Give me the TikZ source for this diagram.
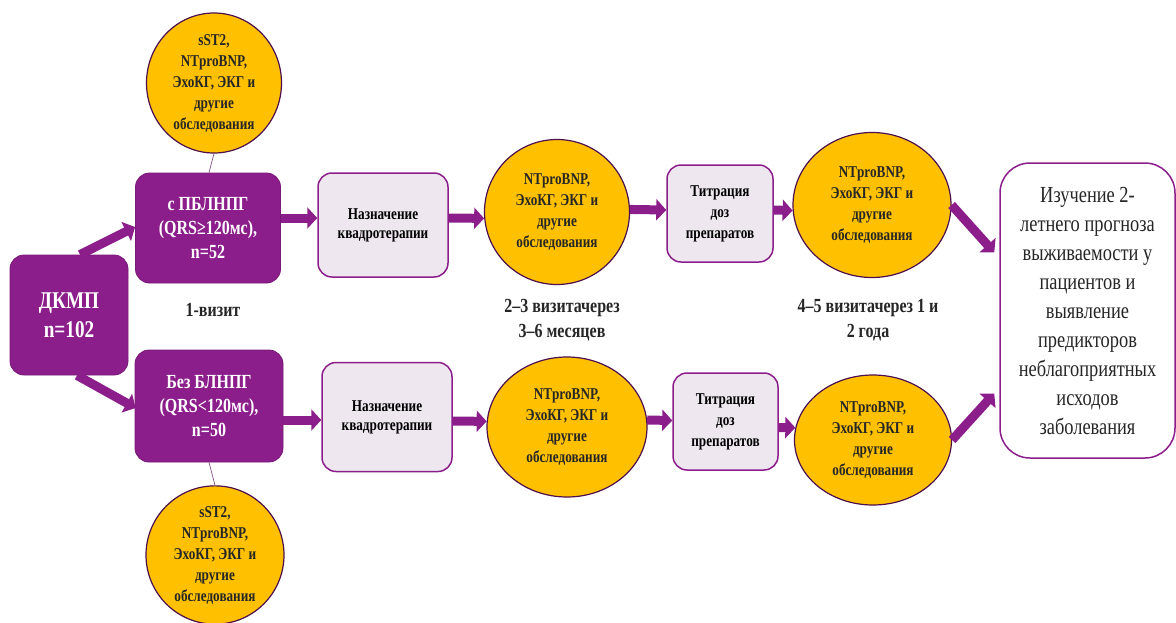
\documentclass[tikz,border=0pt]{standalone}
\usepackage{fontspec}
\setmainfont{Liberation Serif}
\newfontfamily\nf[FakeStretch=0.8]{Liberation Serif}
\usetikzlibrary{arrows.meta,shapes.geometric,calc}
\definecolor{purp}{HTML}{8C1E8C}
\definecolor{gold}{HTML}{FFC000}
\definecolor{lav}{HTML}{EEE7EF}
\begin{document}
\begin{tikzpicture}[x=1pt,y=-1pt,
 pbox/.style={rectangle, rounded corners=14pt, fill=purp, draw=purp!85!black, line width=0.8pt, text=white, align=center, inner sep=0pt, font=\nf\bfseries\fontsize{20}{24}\selectfont},
 lbox/.style={rectangle, rounded corners=14pt, fill=lav, draw=purp, line width=1.5pt, align=center, inner sep=0pt, font=\nf\bfseries\fontsize{16.5}{19}\selectfont},
 oval/.style={ellipse, fill=gold, draw=purp!55!black, line width=1.2pt, align=center, inner sep=0pt, font=\nf\bfseries\fontsize{16.5}{21}\selectfont, text=black!85},
 bar/.style={draw=purp, line width=9pt, -{Triangle[width=21pt,length=10pt]}},
 thin/.style={draw=purp!50!gray, line width=0.7pt},
 lbl/.style={align=center, font=\nf\bfseries\fontsize{20}{25}\selectfont, text=black!85}
]
\useasboundingbox (0,0) rectangle (1176,622);

% left column
\node[pbox, minimum width=118pt, minimum height=120pt, font=\nf\bfseries\fontsize{24}{29}\selectfont] (dkmp) at (69,315) {ДКМП\\n=102};
\node[pbox, minimum width=145pt, minimum height=110pt] (g1) at (208,228) {с ПБЛНПГ\\(QRS≥120мс),\\n=52};
\node[pbox, minimum width=148pt, minimum height=112pt] (g2) at (209,406) {Без БЛНПГ\\(QRS<120мс),\\n=50};
\node[oval, minimum width=135pt, minimum height=140pt] (c0) at (214,83) {sST2,\\NTproBNP,\\ЭхоКГ, ЭКГ и\\другие\\обследования};
\node[oval, minimum width=138pt, minimum height=136pt] (c0b) at (215,555) {sST2,\\NTproBNP,\\ЭхоКГ, ЭКГ и\\другие\\обследования};
\node[lbl] (v1) at (213,310) {1-визит};

% therapy
\node[lbox, minimum width=130pt, minimum height=104pt] (n1) at (383,225) {Назначение\\квадротерапии};
\node[lbox, minimum width=130pt, minimum height=109pt] (n2) at (387,417) {Назначение\\квадротерапии};

% mid circles
\node[oval, minimum width=145pt, minimum height=145pt] (m1) at (557,212) {NTproBNP,\\ЭхоКГ, ЭКГ и\\другие\\обследования};
\node[oval, minimum width=160pt, minimum height=140pt] (m2) at (567,427) {NTproBNP,\\ЭхоКГ, ЭКГ и\\другие\\обследования};
\node[lbl] (v2) at (562,320) {2–3 визитачерез\\3–6 месяцев};

% titration
\node[lbox, minimum width=106pt, minimum height=97pt, font=\nf\bfseries\fontsize{16.5}{21}\selectfont] (t1) at (720,213.5) {Титрация\\доз\\препаратов};
\node[lbox, minimum width=105pt, minimum height=97pt, font=\nf\bfseries\fontsize{16.5}{21}\selectfont] (t2) at (725.5,421.5) {Титрация\\доз\\препаратов};

% right circles
\node[oval, minimum width=158pt, minimum height=145pt] (r1) at (872,205) {NTproBNP,\\ЭхоКГ, ЭКГ и\\другие\\обследования};
\node[oval, minimum width=157pt, minimum height=130pt] (r2) at (873,440) {NTproBNP,\\ЭхоКГ, ЭКГ и\\другие\\обследования};
\node[lbl] (v3) at (868,320) {4–5 визитачерез 1 и\\2 года};

% result
\node[rectangle, rounded corners=30pt, fill=white, draw=purp, line width=1.5pt, minimum width=175pt, minimum height=295pt, inner sep=0pt, align=center, font=\nf\fontsize{23}{29}\selectfont, text=black!85] (res) at (1087.5,310.5)
 {Изучение 2-\\летнего прогноза\\выживаемости у\\пациентов и\\выявление\\предикторов\\неблагоприятных\\исходов\\заболевания};

% thin connectors
\draw[thin] (c0.south) -- ([xshift=1pt]g1.north);
\draw[thin] (g2.south) -- (c0b.north);

% arrows
\draw[bar] ($(dkmp.north)+(11,0)$) -- ($(g1.west)+(0,-1)$);
\draw[bar] ($(dkmp.south)+(8,0)$) -- ($(g2.west)+(1,2)$);
\draw[bar] ($(g1.east)+(0,-10)$) -- ($(n1.west)+(0,-7)$);
\draw[bar] ($(n1.east)+(0,-7)$) -- (m1.185);
\draw[bar] (m1.2) -- ($(t1.west)+(0,-3.5)$);
\draw[bar] ($(t1.east)+(0,-3.5)$) -- (r1.184);
\draw[bar] (r1.east) -- ($(res.west)+(-5,-58)$);
\draw[bar] ($(g2.east)+(0,14)$) -- ($(n2.west)+(0,3)$);
\draw[bar] ($(n2.east)+(0,4)$) -- (m2.176);
\draw[bar] (m2.5) -- ($(t2.west)+(0,-1)$);
\draw[bar] ($(t2.east)+(0,6)$) -- (r2.171);
\draw[bar] (r2.east) -- ($(res.west)+(-5,83)$);
\end{tikzpicture}
\end{document}
